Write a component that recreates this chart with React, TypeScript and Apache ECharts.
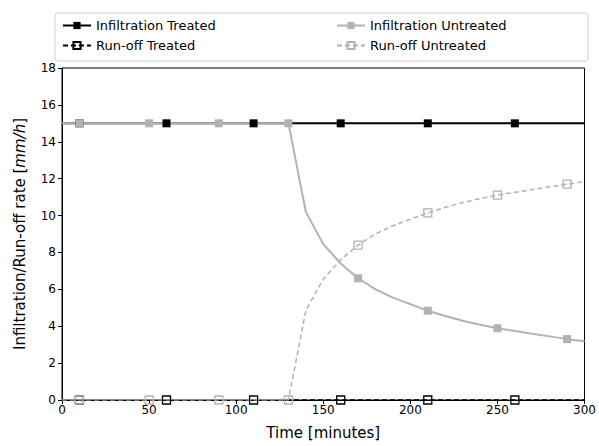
import React, { useEffect, useRef } from "react";
import * as echarts from "echarts";

const time = [0, 10, 20, 30, 40, 50, 60, 70, 80, 90, 100, 110, 120, 130, 140, 150, 160, 170, 180, 190, 200, 210, 220, 230, 240, 250, 260, 270, 280, 290, 300];
const infTreated = [15, 15, 15, 15, 15, 15, 15, 15, 15, 15, 15, 15, 15, 15, 15, 15, 15, 15, 15, 15, 15, 15, 15, 15, 15, 15, 15, 15, 15, 15, 15];
const runTreated = [0, 0, 0, 0, 0, 0, 0, 0, 0, 0, 0, 0, 0, 0, 0, 0, 0, 0, 0, 0, 0, 0, 0, 0, 0, 0, 0, 0, 0, 0, 0];
const infUntreated = [15, 15, 15, 15, 15, 15, 15, 15, 15, 15, 15, 15, 15, 15, 10.2, 8.45, 7.4, 6.6, 6.0, 5.55, 5.2, 4.84, 4.55, 4.3, 4.08, 3.89, 3.74, 3.59, 3.45, 3.3, 3.18];
const runUntreated = [0, 0, 0, 0, 0, 0, 0, 0, 0, 0, 0, 0, 0, 0, 4.85, 6.55, 7.6, 8.4, 9.0, 9.45, 9.8, 10.14, 10.45, 10.7, 10.92, 11.11, 11.26, 11.41, 11.56, 11.7, 11.84];
const seriesNames = ["Infiltration Treated", "Run-off Treated", "Infiltration Untreated", "Run-off Untreated"];

const FONT = "DejaVu Sans";
const GRAY = "#b2b2b2";

function pairs(ys: number[]) {
  return time.map((t, i) => [t, ys[i]]);
}

export default function App() {
  const ref = useRef<HTMLDivElement>(null);
  useEffect(() => {
    const chart = echarts.init(ref.current!, undefined, { renderer: "svg" });
    const every = (n: number, size: number) => (_v: any, p: any) =>
      p && p.dataIndex % n === 1 ? size : 0;
    const legendText = { fontFamily: FONT, fontSize: 13, color: "#000", padding: [0, 0, 0, 0] };
    chart.setOption({
      animation: false,
      textStyle: { fontFamily: FONT },
      grid: { left: 62, right: 12, top: 68, bottom: 46, show: true, borderColor: "#000", borderWidth: 1 },
      graphic: [
        {
          type: "rect",
          shape: { x: 55, y: 13, width: 533, height: 48, r: 3 },
          style: { fill: "#fff", stroke: "#d0d0d0", lineWidth: 1 },
          z: 0,
        },
      ],
      legend: [
        {
          data: [seriesNames[0], seriesNames[1]],
          orient: "vertical",
          left: 57,
          top: 14,
          itemWidth: 28,
          itemHeight: 9,
          itemGap: 7,
          textStyle: legendText,
        },
        {
          data: [seriesNames[2], seriesNames[3]],
          orient: "vertical",
          left: 331,
          top: 14,
          itemWidth: 28,
          itemHeight: 9,
          itemGap: 7,
          textStyle: legendText,
        },
      ],
      xAxis: {
        type: "value",
        min: 0,
        max: 300,
        interval: 50,
        name: "Time [minutes]",
        nameLocation: "middle",
        nameGap: 25,
        nameTextStyle: { fontFamily: FONT, fontSize: 15, color: "#000" },
        axisLine: { show: true, onZero: false, lineStyle: { color: "#000", width: 1 } },
        axisTick: { show: true, length: 4, lineStyle: { color: "#000" } },
        axisLabel: { fontFamily: FONT, fontSize: 12, color: "#000", margin: 4 },
        splitLine: { show: false },
      },
      yAxis: {
        type: "value",
        min: 0,
        max: 18,
        interval: 2,
        name: "Infiltration/Run-off rate [{i|mm/h}]",
        nameLocation: "middle",
        nameGap: 35,
        nameTextStyle: {
          fontFamily: FONT,
          fontSize: 15,
          color: "#000",
          rich: { i: { fontFamily: FONT, fontSize: 15, fontStyle: "italic", color: "#000" } },
        },
        axisLine: { show: true, lineStyle: { color: "#000", width: 1 } },
        axisTick: { show: true, length: 4, lineStyle: { color: "#000" } },
        axisLabel: { fontFamily: FONT, fontSize: 12, color: "#000", margin: 6 },
        splitLine: { show: false },
      },
      series: [
        {
          name: seriesNames[0],
          type: "line",
          data: pairs(infTreated),
          symbol: "rect",
          symbolSize: every(5, 8),
          showAllSymbol: true,
          color: "#000",
          itemStyle: { color: "#000" },
          lineStyle: { color: "#000", width: 2 },
        },
        {
          name: seriesNames[1],
          type: "line",
          data: pairs(runTreated),
          symbol: "rect",
          symbolSize: every(5, 8),
          showAllSymbol: true,
          color: "#000",
          itemStyle: { color: "rgba(0,0,0,0)", borderColor: "#000", borderWidth: 1.3 },
          lineStyle: { color: "#000", width: 1.5, type: [5, 3] },
        },
        {
          name: seriesNames[2],
          type: "line",
          data: pairs(infUntreated),
          symbol: "rect",
          symbolSize: every(4, 8),
          showAllSymbol: true,
          color: GRAY,
          itemStyle: { color: GRAY },
          lineStyle: { color: GRAY, width: 2 },
        },
        {
          name: seriesNames[3],
          type: "line",
          data: pairs(runUntreated),
          symbol: "rect",
          symbolSize: every(4, 8),
          showAllSymbol: true,
          color: GRAY,
          itemStyle: { color: "rgba(0,0,0,0)", borderColor: GRAY, borderWidth: 1.3 },
          lineStyle: { color: GRAY, width: 1.5, type: [5, 3] },
        },
      ],
    });
    return () => chart.dispose();
  }, []);
  return <div ref={ref} style={{ width: 599, height: 446, position: "absolute", left: 0, top: 0 }} />;
}
